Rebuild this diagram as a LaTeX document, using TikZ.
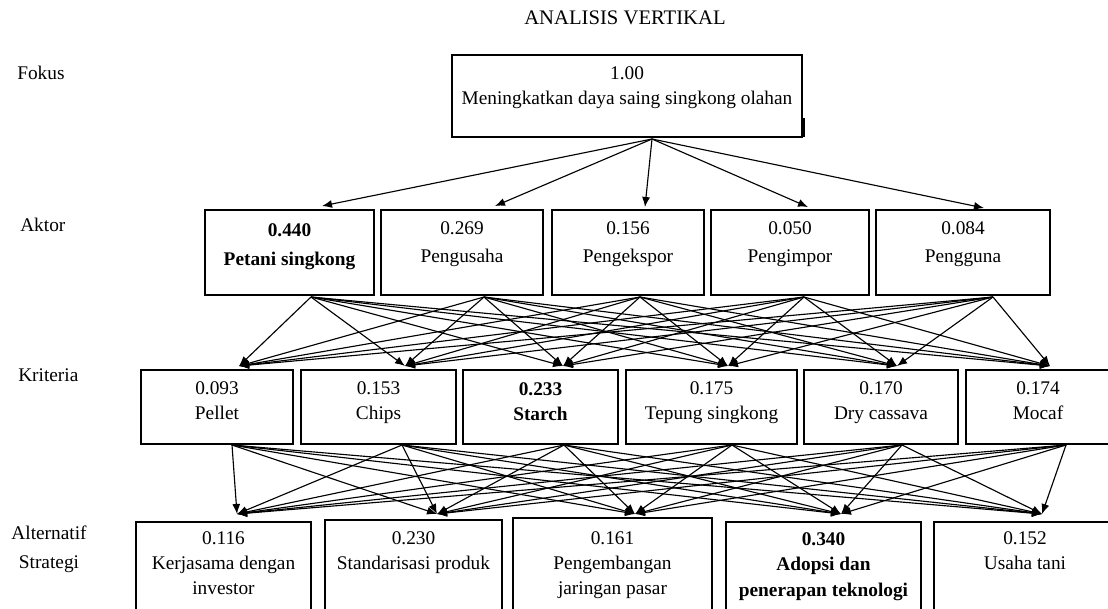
\documentclass[tikz,border=0pt]{standalone}
\usepackage{fontspec}
\setmainfont{Liberation Serif}
\usetikzlibrary{arrows.meta,fit}
\begin{document}
\begin{tikzpicture}[x=0.75pt,y=-0.75pt,
  boxst/.style={draw=black, line width=1pt, inner sep=0pt},
  txt/.style={anchor=base, inner sep=0pt, font=\fontsize{14.5}{17}\selectfont},
  btxt/.style={txt, font=\fontsize{14.5}{17}\selectfont\bfseries},
  conn/.style={line width=0.85pt, -{Latex[length=7.5pt,width=6pt]}}]
\useasboundingbox (0,0) rectangle (1108,608);
\clip (0,0) rectangle (1108,608);

% title and level labels
\node[txt, font=\fontsize{15.5}{18}\selectfont] (title) at (625,24) {ANALISIS VERTIKAL};
\node[txt, anchor=base west] (lfok) at (17,79) {Fokus};
\node[txt, anchor=base west] (lakt) at (20,231) {Aktor};
\node[txt, anchor=base west] (lkri) at (18,381) {Kriteria};
\node[txt] (lalt1) at (49,539) {Alternatif};
\node[txt] (lalt2) at (49,568) {Strategi};

% focus
\node[boxst, fit={(452,55) (802,137)}] (f) {};
\fill (801,118) rectangle (805,137);
\node[txt] (ft1) at (627,79) {1.00};
\node[txt] (ft2) at (627,104) {Meningkatkan daya saing singkong olahan};

% actors
\node[boxst, fit={(205,210) (374,295)}] (a1) {};
\node[boxst, fit={(381,210) (543,295)}] (a2) {};
\node[boxst, fit={(552,210) (704,295)}] (a3) {};
\node[boxst, fit={(711,210) (869,295)}] (a4) {};
\node[boxst, fit={(876,210) (1050,295)}] (a5) {};
\node[btxt] (a1n) at (289.5,236) {0.440};
\node[btxt] (a1m) at (289.5,265) {Petani singkong};
\node[txt] (a2n) at (462,234) {0.269};
\node[txt] (a2m) at (462,262) {Pengusaha};
\node[txt] (a3n) at (628,234) {0.156};
\node[txt] (a3m) at (628,262) {Pengekspor};
\node[txt] (a4n) at (790,234) {0.050};
\node[txt] (a4m) at (790,262) {Pengimpor};
\node[txt] (a5n) at (963,234) {0.084};
\node[txt] (a5m) at (963,262) {Pengguna};

% criteria
\node[boxst, fit={(141,370) (293,444)}] (k1) {};
\node[boxst, fit={(301,370) (456,444)}] (k2) {};
\node[boxst, fit={(463,370) (618,444)}] (k3) {};
\node[boxst, fit={(626,370) (797,444)}] (k4) {};
\node[boxst, fit={(804,370) (958,444)}] (k5) {};
\node[boxst, fit={(966,370) (1114,444)}] (k6) {};
\node[txt] (k1n) at (217,394) {0.093};
\node[txt] (k1m) at (217,419) {Pellet};
\node[txt] (k2n) at (378.5,394) {0.153};
\node[txt] (k2m) at (378.5,419) {Chips};
\node[btxt] (k3n) at (540.5,395) {0.233};
\node[btxt] (k3m) at (540.5,420) {Starch};
\node[txt] (k4n) at (711.5,394) {0.175};
\node[txt] (k4m) at (711.5,419) {Tepung singkong};
\node[txt] (k5n) at (881,394) {0.170};
\node[txt] (k5m) at (881,419) {Dry cassava};
\node[txt] (k6n) at (1038,394) {0.174};
\node[txt] (k6m) at (1038,419) {Mocaf};

% alternatives
\node[boxst, fit={(136,522) (311,620)}] (s1) {};
\node[boxst, fit={(325,520) (502,620)}] (s2) {};
\node[boxst, fit={(513,518) (712,620)}] (s3) {};
\node[boxst, fit={(726,522) (921,620)}] (s4) {};
\node[boxst, fit={(934,522) (1114,620)}] (s5) {};
\node[txt] (s1n) at (223.5,544) {0.116};
\node[txt] (s1m) at (223.5,569) {Kerjasama dengan};
\node[txt] (s1o) at (223.5,594) {investor};
\node[txt] (s2n) at (413.5,544) {0.230};
\node[txt] (s2m) at (413.5,569) {Standarisasi produk};
\node[txt] (s3n) at (612.5,544) {0.161};
\node[txt] (s3m) at (612.5,569) {Pengembangan};
\node[txt] (s3o) at (612.5,594) {jaringan pasar};
\node[btxt] (s4n) at (823.5,545) {0.340};
\node[btxt] (s4m) at (823.5,570) {Adopsi dan};
\node[btxt] (s4o) at (823.5,596) {penerapan teknologi};
\node[txt] (s5n) at (1025,544) {0.152};
\node[txt] (s5m) at (1025,569) {Usaha tani};

% ports
\coordinate (fo) at (652,139);
\coordinate (a1i) at (322,206);
\coordinate (a2i) at (495,206);
\coordinate (a3i) at (645,207);
\coordinate (a4i) at (808,207);
\coordinate (a5i) at (984,208);
\coordinate (a1o) at (311,297);
\coordinate (a2o) at (484,297);
\coordinate (a3o) at (640,297);
\coordinate (a4o) at (804,297);
\coordinate (a5o) at (993,297);
\coordinate (k1i) at (239,366);
\coordinate (k2i) at (405,366);
\coordinate (k3i) at (563,366);
\coordinate (k4i) at (728,366);
\coordinate (k5i) at (897,366);
\coordinate (k6i) at (1050,366);
\coordinate (k1o) at (232,445);
\coordinate (k2o) at (402,445);
\coordinate (k3o) at (564,445);
\coordinate (k4o) at (732,445);
\coordinate (k5o) at (902,445);
\coordinate (k6o) at (1066,445);
\coordinate (s1i) at (237,514);
\coordinate (s2i) at (437,514);
\coordinate (s3i) at (635,514);
\coordinate (s4i) at (841,514);
\coordinate (s5i) at (1042,514);

% connectors
\foreach \i in {1,...,5} {\draw[conn] (fo) -- (a\i i);}
\foreach \i in {1,...,5} {\foreach \j in {1,...,6} {\draw[conn] (a\i o) -- (k\j i);}}
\foreach \i in {1,...,6} {\foreach \j in {1,...,5} {\draw[conn] (k\i o) -- (s\j i);}}
\end{tikzpicture}
\end{document}
